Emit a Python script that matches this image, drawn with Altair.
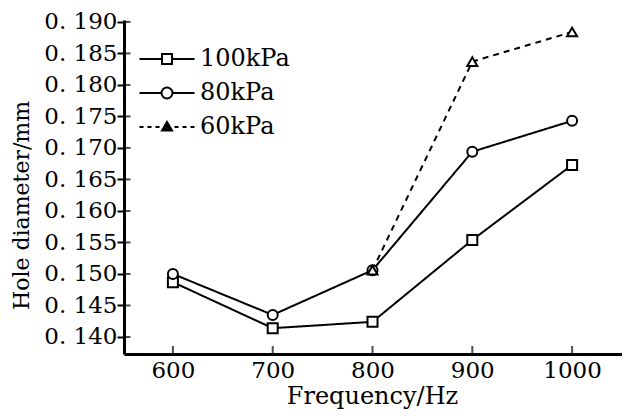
import altair as alt
import pandas as pd

# ---- data ----
freq = [600, 700, 800, 900, 1000]
d100 = [0.1487, 0.1414, 0.1424, 0.1554, 0.1673]
d80 = [0.1500, 0.1435, 0.1506, 0.1694, 0.1743]
freq60 = [800, 900, 1000]
d60 = [0.1506, 0.1837, 0.1884]
series = ["100kPa", "80kPa", "60kPa"]
y_ticks = [0.140, 0.145, 0.150, 0.155, 0.160, 0.165, 0.170, 0.175, 0.180, 0.185, 0.190]
x_ticks = [600, 700, 800, 900, 1000]

rows = []
for f, v in zip(freq, d100):
    rows.append({"f": f, "d": v, "s": "100kPa"})
for f, v in zip(freq, d80):
    rows.append({"f": f, "d": v, "s": "80kPa"})
for f, v in zip(freq60, d60):
    rows.append({"f": f, "d": v, "s": "60kPa"})
df = pd.DataFrame(rows)

YMIN, YMAX = 0.1373, 0.1903
XMIN, XMAX = 551, 1050
FONT = "DejaVu Serif"

xs = alt.Scale(domain=[XMIN, XMAX], nice=False, zero=False)
ys = alt.Scale(domain=[YMIN, YMAX], nice=False, zero=False)

x_axis = alt.Axis(
    values=x_ticks, format="d", ticks=False, labelPadding=5, grid=False, labelOverlap=False,
    title="Frequency/Hz", titleFontSize=24, titleFont=FONT, titleFontWeight="normal",
    titleX=248, titleY=49, titleBaseline="alphabetic", titleAnchor="middle",
    labelFont=FONT, labelFontSize=23, domainWidth=3)
y_axis = alt.Axis(
    values=y_ticks, tickSize=7, tickWidth=2, labelPadding=0, grid=False, labelOverlap=False,
    labelExpr="replace(format(datum.value, '.3f'), '.', '. ')",
    title="Hole diameter/mm", titleFontSize=22, titleFont=FONT, titleFontWeight="normal",
    titleX=-96, titleY=185, titleBaseline="alphabetic", titleAnchor="middle", titleAngle=270,
    labelFont=FONT, labelFontSize=23, domainWidth=3)

X = alt.X("f:Q", scale=xs, axis=x_axis)
Y = alt.Y("d:Q", scale=ys, axis=y_axis)

stroke_dash = alt.StrokeDash("s:N", scale=alt.Scale(domain=series, range=[[1, 0], [1, 0], [6, 5]]), legend=None)

lines = alt.Chart(df).mark_line(color="black", strokeWidth=2).encode(
    x=X, y=Y, strokeDash=stroke_dash, detail="s:N")

points = alt.Chart(df).mark_point(filled=True, fill="white", stroke="black", strokeWidth=2, size=100, opacity=1).encode(
    x=X, y=Y,
    shape=alt.Shape("s:N", scale=alt.Scale(domain=series, range=["square", "circle", "triangle-up"]), legend=None))

# legend symbols: line + marker drawn as custom paths (symbolSize=400)
sq = "M-2.75,0H-0.5M0.5,0H2.75M-0.5,-0.5H0.5V0.5H-0.5Z"
ci = "M-2.75,0H-0.55M0.55,0H2.75M0.55,0A0.55,0.55,0,1,1,-0.55,0A0.55,0.55,0,1,1,0.55,0Z"
tr = ("M-2.75,0H-2.35M-1.95,0H-1.55M-1.15,0H-0.75M0.75,0H1.15M1.55,0H1.95M2.35,0H2.75"
      "M0,-0.5L0.5,0.35L-0.5,0.35ZM0,-0.15L0.22,0.22L-0.22,0.22Z")

legend_layer = alt.Chart(df).transform_filter("false").mark_point(
    filled=False, stroke="black", strokeWidth=2, opacity=1).encode(
    x=X, y=Y,
    shape=alt.Shape("s:N", scale=alt.Scale(domain=series, range=[sq, ci, tr]),
                    legend=alt.Legend(title=None, orient="none", legendX=31, legendY=27,
                                      symbolSize=400, symbolStrokeWidth=2,
                                      symbolStrokeColor="black",
                                      labelFont=FONT, labelFontSize=24, labelColor="black",
                                      labelOffset=21, rowPadding=10)))

tick_df = pd.DataFrame({"f": x_ticks})
xticks_in = alt.Chart(tick_df).mark_tick(orient="vertical", size=8, thickness=2, color="black", yOffset=-4).encode(
    x=X, y=alt.YDatum(YMIN, scale=ys, axis=y_axis))
ytick_df = pd.DataFrame({"d": y_ticks})
yticks_in = alt.Chart(ytick_df).mark_tick(orient="horizontal", size=7, thickness=2, color="black", xOffset=3).encode(
    y=Y, x=alt.XDatum(XMIN, scale=xs, axis=x_axis))

chart = alt.layer(lines, points, legend_layer, xticks_in, yticks_in).resolve_scale(
    shape="independent"
).properties(
    width=498, height=334,
    autosize=alt.AutoSizeParams(type="none"),
    padding={"left": 116, "top": 12, "right": 0, "bottom": 58},
).configure_view(stroke=None).configure_axis(
    domainColor="black", tickColor="black", labelColor="black", titleColor="black"
)

chart.save("out.html", embed_options={"renderer": "svg", "actions": False})
